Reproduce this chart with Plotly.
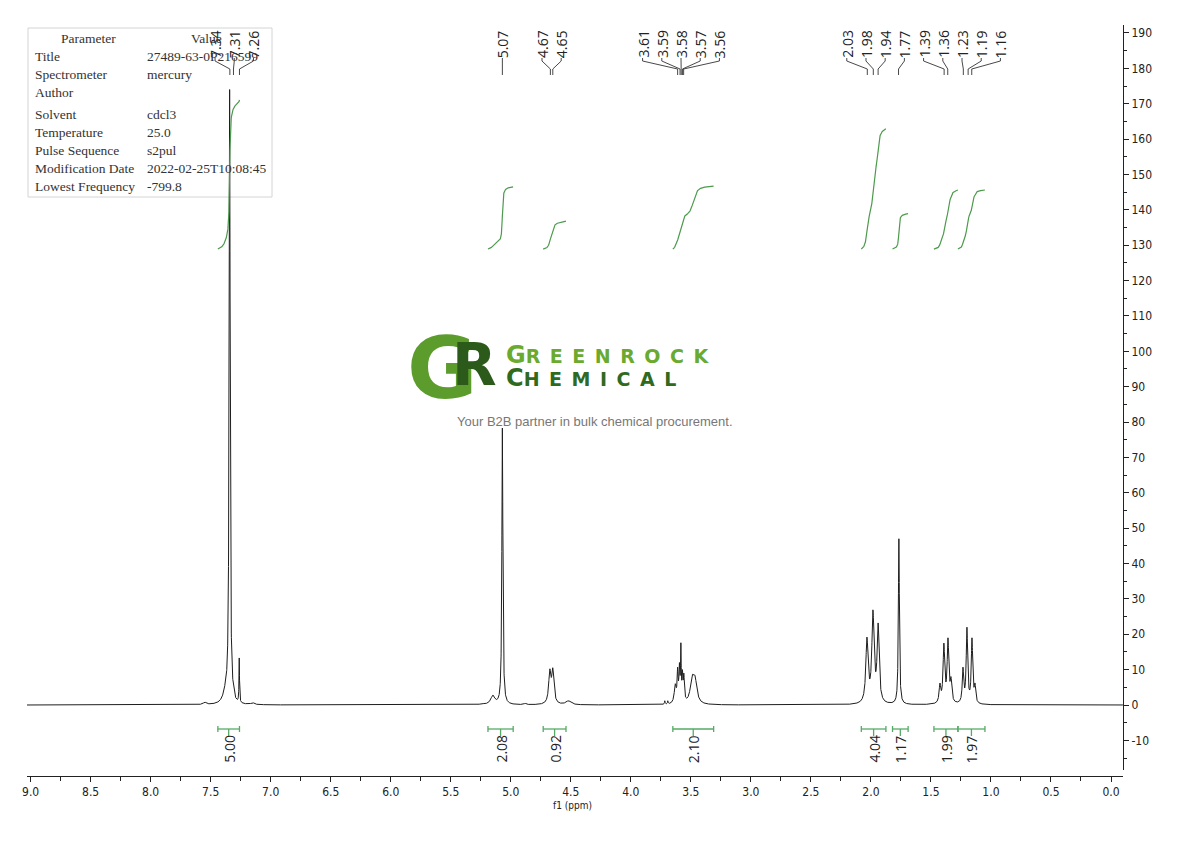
import numpy as np
import plotly.graph_objects as go

# ---------------- data ----------------
peak_ppm = [7.55, 7.375, 7.342, 7.312, 7.262, 7.15,
            5.24, 5.15, 5.07, 4.88,
            4.675, 4.650, 4.52,
            3.717, 3.692, 3.63, 3.610, 3.595, 3.583, 3.570, 3.558, 3.490, 3.465,
            2.033, 1.983, 1.940, 1.767,
            1.425, 1.392, 1.358, 1.333,
            1.233, 1.200, 1.158, 1.133]
peak_height = [0.8, 7.0, 174.0, 6.5, 13.3, 0.7,
               0.5, 2.8, 78.3, 0.5,
               10.2, 10.5, 1.2,
               1.2, 1.2, 6.0, 10.7, 12.0, 17.6, 10.0, 9.0, 8.5, 8.3,
               19.2, 26.9, 23.2, 47.0,
               6.2, 17.5, 19.0, 8.0,
               10.7, 22.0, 19.0, 6.2]
peak_hwhm = [0.015, 0.025, 0.005, 0.004, 0.0025, 0.015,
             0.015, 0.02, 0.005, 0.01,
             0.011, 0.011, 0.025,
             0.003, 0.003, 0.01, 0.005, 0.005, 0.003, 0.005, 0.005, 0.018, 0.018,
             0.011, 0.011, 0.010, 0.005,
             0.008, 0.008, 0.008, 0.008,
             0.007, 0.007, 0.007, 0.007]

label_ppm = [7.34, 7.31, 7.26, 5.07, 4.67, 4.65, 3.61, 3.59, 3.58, 3.57, 3.56,
             2.03, 1.98, 1.94, 1.77, 1.39, 1.36, 1.23, 1.19, 1.16]

int_hi = [7.44, 5.19, 4.73, 3.65, 2.08, 1.82, 1.475, 1.275]
int_lo = [7.26, 4.98, 4.54, 3.31, 1.875, 1.69, 1.275, 1.05]
int_values = ["5.00", "2.08", "0.92", "2.10", "4.04", "1.17", "1.99", "1.97"]
int_curve_start = [128.9, 128.9, 128.9, 128.9, 128.9, 128.9, 128.9, 128.9]
int_curve_rise = [42.2, 17.6, 7.9, 17.8, 34.0, 10.0, 16.7, 16.7]

y_tick_values = list(range(-10, 191, 10))
x_tick_values = [9.0, 8.5, 8.0, 7.5, 7.0, 6.5, 6.0, 5.5, 5.0, 4.5, 4.0,
                 3.5, 3.0, 2.5, 2.0, 1.5, 1.0, 0.5, 0.0]

param_names = ["Title", "Spectrometer", "Author", "Solvent", "Temperature",
               "Pulse Sequence", "Modification Date", "Lowest Frequency"]
param_values = ["27489-63-0P216599", "mercury", "", "cdcl3", "25.0",
                "s2pul", "2022-02-25T10:08:45", "-799.8"]

# ---------------- spectrum ----------------
ppm = np.arange(9.03, -0.1, -0.0005)
P = np.array(peak_ppm)
H = np.array(peak_height)
W = np.array(peak_hwhm)
A = 1.0 / (1.0 + ((P[:, None] - P[None, :]) / W[None, :]) ** 2)
amp = np.clip(np.linalg.solve(A, H), 0, None)
spec = np.zeros_like(ppm)
for p, a, w in zip(P, amp, W):
    spec += a / (1.0 + ((ppm - p) / w) ** 2)
spec = np.round(spec, 3)

# ---------------- geometry helpers ----------------
OFF = 8                                   # page body margin of the html file
FIG_W, FIG_H = 1190 - OFF, 841 - OFF
PX_L, PX_R, PX_T, PX_B = 27, 1123, 25, 776  # plot box in reference pixels
Y_PX0, Y_PX_PER = 705.0, 3.537            # value 0 at 705 px, 3.537 px per unit
def yv(py):
    return (Y_PX0 - py) / Y_PX_PER
def paper(px, py):
    return (px - PX_L) / (PX_R - PX_L), (PX_B - py) / (PX_B - PX_T)

fig = go.Figure()
fig.add_trace(go.Scatter(x=ppm, y=spec, mode="lines",
                         line=dict(color="#1e1e1e", width=1), hoverinfo="skip"))

# integral curves
gx, gy = [], []
for hi, lo, st, rise in zip(int_hi, int_lo, int_curve_start, int_curve_rise):
    m = (ppm <= hi) & (ppm >= lo)
    c = np.cumsum(spec[m])
    c = (c - c[0]) / (c[-1] - c[0])
    gx += list(ppm[m]) + [None]
    gy += list(np.round(st + rise * c, 3)) + [None]
fig.add_trace(go.Scatter(x=gx, y=gy, mode="lines",
                         line=dict(color="#4c9a4c", width=1.2), hoverinfo="skip"))

# integration brackets
bx, by = [], []
yb, tk = yv(729), 0.85
for hi, lo in zip(int_hi, int_lo):
    c = (hi + lo) / 2
    bx += [hi, hi, None, hi, lo, None, lo, lo, None, c, c, None]
    by += [yb - tk, yb + tk, None, yb, yb, None, yb - tk, yb + tk, None, yb, yv(736), None]
fig.add_trace(go.Scatter(x=bx, y=by, mode="lines",
                         line=dict(color="#55aa66", width=1.3), hoverinfo="skip"))

annotations = []
for hi, lo, t in zip(int_hi, int_lo, int_values):
    annotations.append(dict(x=(hi + lo) / 2, y=yv(749), text=t, textangle=-90,
                            showarrow=False, xanchor="center", yanchor="middle",
                            font=dict(family="Open Sans", size=14, color="#222")))

# peak label positions (spread clusters)
spacing = 0.16
clusters = [[p] for p in sorted(label_ppm, reverse=True)]
def positions(cl):
    c = np.mean(cl)
    n = len(cl)
    return [c + spacing * ((n - 1) / 2 - i) for i in range(n)]
changed = True
while changed:
    changed = False
    for i in range(len(clusters) - 1):
        a = positions(clusters[i])[-1]
        b = positions(clusters[i + 1])[0]
        if a - b < spacing - 1e-9:
            clusters[i] = clusters[i] + clusters[i + 1]
            del clusters[i + 1]
            changed = True
            break
lab_pos = []
for cl in clusters:
    lab_pos += positions(cl)
peaks_sorted = sorted(label_ppm, reverse=True)

cx, cy = [], []
for lp, pp in zip(lab_pos, peaks_sorted):
    cx += [lp, lp, pp, pp, None]
    cy += [yv(58), yv(61), yv(69), yv(75), None]
    annotations.append(dict(x=lp, y=yv(44), text=f"{pp:.2f}", textangle=-90,
                            showarrow=False, xanchor="center", yanchor="middle",
                            font=dict(family="Open Sans", size=14, color="#222")))
fig.add_trace(go.Scatter(x=cx, y=cy, mode="lines",
                         line=dict(color="#333", width=0.9), hoverinfo="skip"))

# parameter table
x0, y0 = paper(28, 28)
x1, y1 = paper(272, 197)
shapes = [dict(type="rect", xref="paper", yref="paper", x0=x0, x1=x1, y0=y1, y1=y0,
               line=dict(color="#d4d4d4", width=1), fillcolor="white", layer="below")]
tfont = dict(family="Liberation Serif, DejaVu Serif, serif", size=13.5, color="#333")
hx, hy = paper(88, 39)
annotations.append(dict(xref="paper", yref="paper", x=hx, y=hy, text="Parameter",
                        showarrow=False, xanchor="center", yanchor="middle", font=tfont))
hx, hy = paper(206, 39)
annotations.append(dict(xref="paper", yref="paper", x=hx, y=hy, text="Value",
                        showarrow=False, xanchor="center", yanchor="middle", font=tfont))
row_px = [57, 75, 93, 115, 133, 151, 169, 187]
for name, val, ry in zip(param_names, param_values, row_px):
    ax, ay = paper(33, ry)
    annotations.append(dict(xref="paper", yref="paper", x=ax, y=ay, text=name,
                            showarrow=False, xanchor="left", yanchor="middle", font=tfont))
    if val:
        ax, ay = paper(145, ry)
        annotations.append(dict(xref="paper", yref="paper", x=ax, y=ay, text=val,
                                showarrow=False, xanchor="left", yanchor="middle", font=tfont))

# watermark
def ann_px(px, py, text, size, color, family="DejaVu Sans", xanchor="left", bold=False):
    ax, ay = paper(px, py)
    t = f"<b>{text}</b>" if bold else text
    return dict(xref="paper", yref="paper", x=ax, y=ay, text=t, showarrow=False,
                xanchor=xanchor, yanchor="middle", borderpad=0,
                font=dict(family=family, size=size, color=color))
annotations.append(ann_px(406, 368, "G", 86, "#5c9c2c", bold=True))
annotations.append(ann_px(498, 365, "R", 58, "#2c5a1a", bold=True, xanchor="right"))
sp = "\u2002"
annotations.append(ann_px(505, 355, "<span style='font-size:24px'>G</span>" + sp.join("REENROCK"),
                          19, "#6aaa2e", bold=True))
annotations.append(ann_px(505, 378, "<span style='font-size:24px'>C</span>" + sp.join("HEMICAL"),
                          19, "#2f6a1f", bold=True))
annotations.append(ann_px(595, 421, "Your B2B partner in bulk chemical procurement.", 13,
                          "#777", family="Liberation Sans, Arial, sans-serif", xanchor="center"))

# axis title
annotations.append(ann_px(572, 805, "f1 (ppm)", 10, "#222",
                          family="DejaVu Sans Condensed, Liberation Sans Narrow, sans-serif",
                          xanchor="center"))

tickfont = dict(family="DejaVu Sans Condensed, Liberation Sans Narrow, Roboto Condensed, sans-serif",
                size=12, color="#222")
fig.update_layout(
    width=FIG_W, height=FIG_H, autosize=False,
    margin=dict(l=PX_L - OFF, r=FIG_W - (PX_R - OFF), t=PX_T - OFF, b=FIG_H - (PX_B - OFF)),
    paper_bgcolor="white", plot_bgcolor="white", showlegend=False,
    xaxis=dict(range=[9.03, -0.1], domain=[0, 1], anchor="free", position=0,
               showline=True, linecolor="#222", linewidth=1, mirror=False,
               ticks="outside", ticklen=5, tickcolor="#222", tickwidth=1,
               tickmode="array", tickvals=x_tick_values,
               ticktext=[f"{v:.1f}" for v in x_tick_values], tickfont=tickfont,
               showgrid=False, zeroline=False,
               minor=dict(dtick=0.25, tick0=0, ticks="outside", ticklen=4,
                          tickcolor="#222", showgrid=False)),
    yaxis=dict(range=[yv(770), yv(25)], domain=[(PX_B - 770) / (PX_B - PX_T), 1],
               side="right", anchor="x", showline=True, linecolor="#222", linewidth=1,
               ticks="outside", ticklen=5, tickcolor="#222",
               tickmode="array", tickvals=y_tick_values,
               ticktext=[str(v) for v in y_tick_values],
               tickfont=tickfont, showgrid=False, zeroline=False,
               minor=dict(dtick=5, tick0=0, ticks="outside", ticklen=3,
                          tickcolor="#222", showgrid=False)),
    annotations=annotations, shapes=shapes,
)
fig.write_html("out.html")
